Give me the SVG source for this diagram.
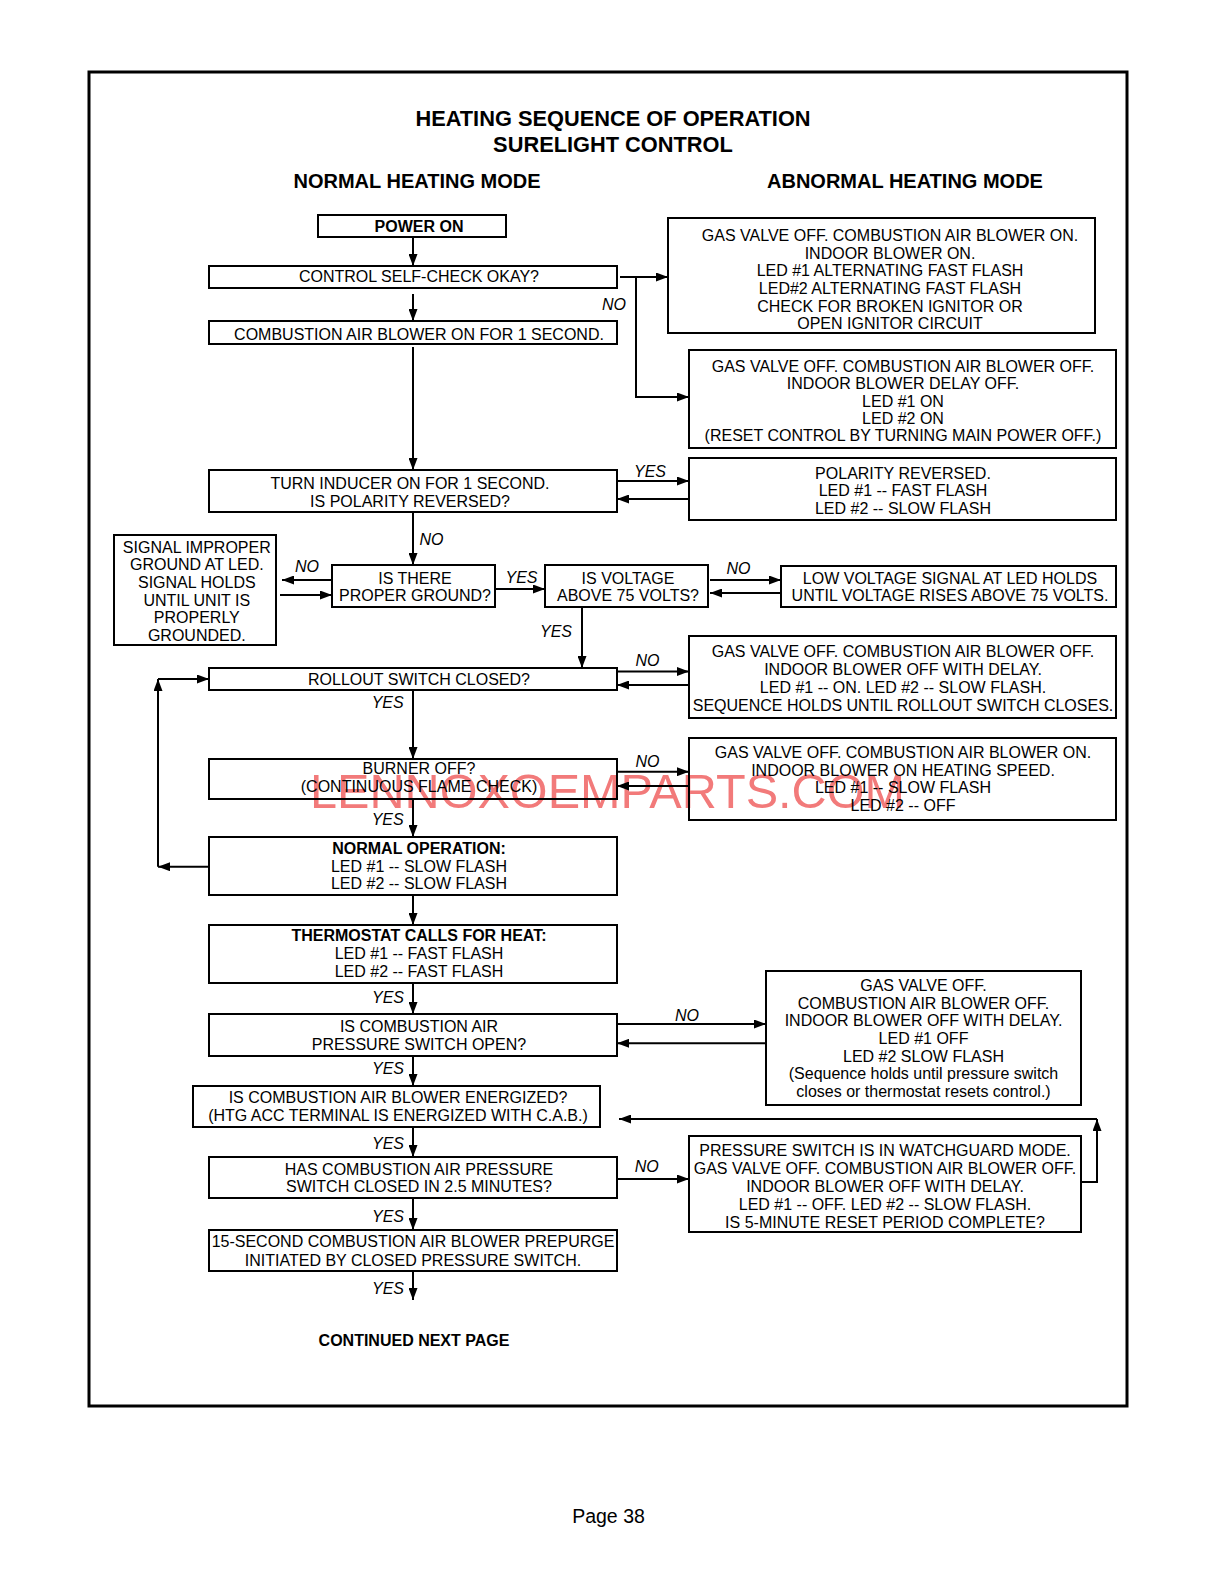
<svg xmlns="http://www.w3.org/2000/svg" width="1219" height="1582" viewBox="0 0 1219 1582">
<style>
text{font-family:"Liberation Sans",Arial,Helvetica,sans-serif;fill:#000}
.t{font-size:16px;text-anchor:middle}
.b{font-size:16px;text-anchor:middle;font-weight:bold}
.l{font-size:16px;text-anchor:middle;font-style:italic}
.h{font-size:20px;text-anchor:middle;font-weight:bold}
.ti{font-size:21.8px;text-anchor:middle;font-weight:bold}
.box{fill:none;stroke:#000;stroke-width:2}
.c line,.c polyline{fill:none;stroke:#000;stroke-width:2}
.wm{font-size:48.6px;text-anchor:middle;fill:#f27a7a}
</style>
<defs>
<marker id="ah" viewBox="0 0 12 9" markerWidth="12" markerHeight="9" refX="12" refY="4.5" orient="auto" markerUnits="userSpaceOnUse">
<path d="M0,0 L12,4.5 L0,9 z" fill="#000"/>
</marker>
</defs>
<rect x="0" y="0" width="1219" height="1582" fill="#fff"/>
<text class="wm" x="607.5" y="808">LENNOXOEMPARTS.COM</text>
<rect x="89" y="72" width="1038" height="1334" fill="none" stroke="#000" stroke-width="3"/>
<text class="ti" x="613" y="126">HEATING SEQUENCE OF OPERATION</text>
<text class="ti" x="613" y="151.5">SURELIGHT CONTROL</text>
<text class="h" x="417" y="188">NORMAL HEATING MODE</text>
<text class="h" x="905" y="188">ABNORMAL HEATING MODE</text>

<g id="power-on"><rect class="box" x="318" y="215" width="188" height="22"/><text class="b" x="419" y="231.7">POWER ON</text></g>
<g id="self-check"><rect class="box" x="209" y="266" width="408" height="22"/><text class="t" x="419" y="282.2">CONTROL SELF-CHECK OKAY?</text></g>
<g id="cab-1sec"><rect class="box" x="209" y="321" width="408" height="23"/><text class="t" x="419" y="339.7">COMBUSTION AIR BLOWER ON FOR 1 SECOND.</text></g>
<g id="ignitor-fault"><rect class="box" x="668" y="218" width="427" height="115"/>
<text class="t" x="890" y="240.8">GAS VALVE OFF. COMBUSTION AIR BLOWER ON.</text>
<text class="t" x="890" y="258.5">INDOOR BLOWER ON.</text>
<text class="t" x="890" y="276.2">LED #1 ALTERNATING FAST FLASH</text>
<text class="t" x="890" y="293.9">LED#2 ALTERNATING FAST FLASH</text>
<text class="t" x="890" y="311.6">CHECK FOR BROKEN IGNITOR OR</text>
<text class="t" x="890" y="329.3">OPEN IGNITOR CIRCUIT</text></g>
<g id="control-fault"><rect class="box" x="689" y="350" width="427" height="98"/>
<text class="t" x="903" y="371.7">GAS VALVE OFF. COMBUSTION AIR BLOWER OFF.</text>
<text class="t" x="903" y="389.1">INDOOR BLOWER DELAY OFF.</text>
<text class="t" x="903" y="406.5">LED #1 ON</text>
<text class="t" x="903" y="423.9">LED #2 ON</text>
<text class="t" x="903" y="441.3">(RESET CONTROL BY TURNING MAIN POWER OFF.)</text></g>
<g id="turn-inducer"><rect class="box" x="209" y="470" width="408" height="42"/>
<text class="t" x="410" y="488.7">TURN INDUCER ON FOR 1 SECOND.</text>
<text class="t" x="410" y="506.7">IS POLARITY REVERSED?</text></g>
<g id="polarity-reversed"><rect class="box" x="689" y="458" width="427" height="62"/>
<text class="t" x="903" y="478.5">POLARITY REVERSED.</text>
<text class="t" x="903" y="496.1">LED #1 -- FAST FLASH</text>
<text class="t" x="903" y="513.8">LED #2 -- SLOW FLASH</text></g>
<g id="improper-ground"><rect class="box" x="114" y="535" width="162" height="110"/>
<text class="t" x="196.8" y="552.7">SIGNAL IMPROPER</text>
<text class="t" x="196.8" y="570.3">GROUND AT LED.</text>
<text class="t" x="196.8" y="587.9">SIGNAL HOLDS</text>
<text class="t" x="196.8" y="605.5">UNTIL UNIT IS</text>
<text class="t" x="196.8" y="623.1">PROPERLY</text>
<text class="t" x="196.8" y="640.7">GROUNDED.</text></g>
<g id="proper-ground"><rect class="box" x="332" y="565" width="163" height="42"/>
<text class="t" x="415" y="583.7">IS THERE</text>
<text class="t" x="415" y="601.2">PROPER GROUND?</text></g>
<g id="voltage"><rect class="box" x="545" y="565" width="163" height="42"/>
<text class="t" x="628" y="583.7">IS VOLTAGE</text>
<text class="t" x="628" y="601.2">ABOVE 75 VOLTS?</text></g>
<g id="low-voltage"><rect class="box" x="781" y="566" width="335" height="41"/>
<text class="t" x="950" y="583.7">LOW VOLTAGE SIGNAL AT LED HOLDS</text>
<text class="t" x="950" y="601.2">UNTIL VOLTAGE RISES ABOVE 75 VOLTS.</text></g>
<g id="rollout"><rect class="box" x="209" y="668" width="408" height="22"/>
<text class="t" x="419" y="684.7">ROLLOUT SWITCH CLOSED?</text></g>
<g id="rollout-open"><rect class="box" x="689" y="636" width="427" height="82"/>
<text class="t" x="903" y="656.7">GAS VALVE OFF. COMBUSTION AIR BLOWER OFF.</text>
<text class="t" x="903" y="674.7">INDOOR BLOWER OFF WITH DELAY.</text>
<text class="t" x="903" y="692.7">LED #1 -- ON. LED #2 -- SLOW FLASH.</text>
<text class="t" x="903" y="710.7">SEQUENCE HOLDS UNTIL ROLLOUT SWITCH CLOSES.</text></g>
<g id="burner-off"><rect class="box" x="209" y="759" width="408" height="40"/>
<text class="t" x="419" y="774.2">BURNER OFF?</text>
<text class="t" x="419" y="792.2">(CONTINUOUS FLAME CHECK)</text></g>
<g id="flame-fault"><rect class="box" x="689" y="738" width="427" height="82"/>
<text class="t" x="903" y="757.7">GAS VALVE OFF. COMBUSTION AIR BLOWER ON.</text>
<text class="t" x="903" y="775.5">INDOOR BLOWER ON HEATING SPEED.</text>
<text class="t" x="903" y="793.3">LED #1 -- SLOW FLASH</text>
<text class="t" x="903" y="811.1">LED #2 -- OFF</text></g>
<g id="normal-operation"><rect class="box" x="209" y="837" width="408" height="58"/>
<text class="b" x="419" y="854">NORMAL OPERATION:</text>
<text class="t" x="419" y="871.7">LED #1 -- SLOW FLASH</text>
<text class="t" x="419" y="889.2">LED #2 -- SLOW FLASH</text></g>
<g id="thermostat"><rect class="box" x="209" y="925" width="408" height="58"/>
<text class="b" x="419" y="941.4">THERMOSTAT CALLS FOR HEAT:</text>
<text class="t" x="419" y="959">LED #1 -- FAST FLASH</text>
<text class="t" x="419" y="976.7">LED #2 -- FAST FLASH</text></g>
<g id="pressure-open"><rect class="box" x="209" y="1014" width="408" height="42"/>
<text class="t" x="419" y="1032.4">IS COMBUSTION AIR</text>
<text class="t" x="419" y="1050">PRESSURE SWITCH OPEN?</text></g>
<g id="pressure-fault"><rect class="box" x="766" y="971" width="315" height="134"/>
<text class="t" x="923.5" y="991.2">GAS VALVE OFF.</text>
<text class="t" x="923.5" y="1008.8">COMBUSTION AIR BLOWER OFF.</text>
<text class="t" x="923.5" y="1026.4">INDOOR BLOWER OFF WITH DELAY.</text>
<text class="t" x="923.5" y="1044">LED #1 OFF</text>
<text class="t" x="923.5" y="1061.6">LED #2 SLOW FLASH</text>
<text class="t" x="923.5" y="1079.2">(Sequence holds until pressure switch</text>
<text class="t" x="923.5" y="1096.8">closes or thermostat resets control.)</text></g>
<g id="cab-energized"><rect class="box" x="193" y="1086" width="407" height="41"/>
<text class="t" x="398" y="1102.7">IS COMBUSTION AIR BLOWER ENERGIZED?</text>
<text class="t" x="398" y="1120.7">(HTG ACC TERMINAL IS ENERGIZED WITH C.A.B.)</text></g>
<g id="pressure-closed"><rect class="box" x="209" y="1157" width="408" height="41"/>
<text class="t" x="419" y="1174.7">HAS COMBUSTION AIR PRESSURE</text>
<text class="t" x="419" y="1192.4">SWITCH CLOSED IN 2.5 MINUTES?</text></g>
<g id="watchguard"><rect class="box" x="689" y="1136" width="392" height="96"/>
<text class="t" x="885" y="1156">PRESSURE SWITCH IS IN WATCHGUARD MODE.</text>
<text class="t" x="885" y="1174">GAS VALVE OFF. COMBUSTION AIR BLOWER OFF.</text>
<text class="t" x="885" y="1192">INDOOR BLOWER OFF WITH DELAY.</text>
<text class="t" x="885" y="1210">LED #1 -- OFF. LED #2 -- SLOW FLASH.</text>
<text class="t" x="885" y="1228">IS 5-MINUTE RESET PERIOD COMPLETE?</text></g>
<g id="prepurge"><rect class="box" x="209" y="1230" width="408" height="41"/>
<text class="t" x="413" y="1247.4">15-SECOND COMBUSTION AIR BLOWER PREPURGE</text>
<text class="t" x="413" y="1265.7">INITIATED BY CLOSED PRESSURE SWITCH.</text></g>

<g id="connectors" class="c">
<line x1="413" y1="237" x2="413" y2="266" marker-end="url(#ah)"/>
<line x1="413" y1="294" x2="413" y2="321" marker-end="url(#ah)"/>
<line x1="620" y1="277" x2="668" y2="277" marker-end="url(#ah)"/>
<polyline points="636,277 636,397 689,397" marker-end="url(#ah)"/>
<line x1="413" y1="347" x2="413" y2="470" marker-end="url(#ah)"/>
<line x1="617" y1="481" x2="689" y2="481" marker-end="url(#ah)"/>
<line x1="689" y1="499" x2="617" y2="499" marker-end="url(#ah)"/>
<line x1="413" y1="512" x2="413" y2="565" marker-end="url(#ah)"/>
<line x1="332" y1="580" x2="282" y2="580" marker-end="url(#ah)"/>
<line x1="280" y1="595" x2="332" y2="595" marker-end="url(#ah)"/>
<line x1="495" y1="589" x2="545" y2="589" marker-end="url(#ah)"/>
<line x1="710" y1="580" x2="781" y2="580" marker-end="url(#ah)"/>
<line x1="781" y1="593" x2="710" y2="593" marker-end="url(#ah)"/>
<line x1="582" y1="607" x2="582" y2="668" marker-end="url(#ah)"/>
<line x1="617" y1="671.5" x2="689" y2="671.5" marker-end="url(#ah)"/>
<line x1="689" y1="685" x2="617" y2="685" marker-end="url(#ah)"/>
<line x1="413" y1="690" x2="413" y2="759" marker-end="url(#ah)"/>
<line x1="617" y1="771.7" x2="689" y2="771.7" marker-end="url(#ah)"/>
<line x1="689" y1="786" x2="617" y2="786" marker-end="url(#ah)"/>
<line x1="413" y1="799" x2="413" y2="837" marker-end="url(#ah)"/>
<line x1="209" y1="866.7" x2="158" y2="866.7" marker-end="url(#ah)"/>
<line x1="158" y1="866.7" x2="158" y2="679" marker-end="url(#ah)"/>
<line x1="158" y1="679" x2="209" y2="679" marker-end="url(#ah)"/>
<line x1="413" y1="895" x2="413" y2="925" marker-end="url(#ah)"/>
<line x1="413" y1="983" x2="413" y2="1014" marker-end="url(#ah)"/>
<line x1="617" y1="1024" x2="766" y2="1024" marker-end="url(#ah)"/>
<line x1="766" y1="1043.3" x2="617" y2="1043.3" marker-end="url(#ah)"/>
<line x1="413" y1="1056" x2="413" y2="1086" marker-end="url(#ah)"/>
<line x1="413" y1="1127" x2="413" y2="1157" marker-end="url(#ah)"/>
<line x1="617" y1="1179" x2="689" y2="1179" marker-end="url(#ah)"/>
<polyline points="1081,1182 1097,1182 1097,1119" marker-end="url(#ah)"/>
<line x1="1097" y1="1119" x2="619" y2="1119" marker-end="url(#ah)"/>
<line x1="413" y1="1198" x2="413" y2="1230" marker-end="url(#ah)"/>
<line x1="413" y1="1271" x2="413" y2="1300" marker-end="url(#ah)"/>
<text class="l" x="614" y="310">NO</text>
<text class="l" x="650" y="476.7">YES</text>
<text class="l" x="431.5" y="544.7">NO</text>
<text class="l" x="307" y="572.2">NO</text>
<text class="l" x="521.5" y="582.7">YES</text>
<text class="l" x="738.5" y="574">NO</text>
<text class="l" x="556" y="637">YES</text>
<text class="l" x="647.5" y="665.7">NO</text>
<text class="l" x="387.7" y="708">YES</text>
<text class="l" x="647.5" y="767.2">NO</text>
<text class="l" x="387.7" y="825">YES</text>
<text class="l" x="388" y="1003">YES</text>
<text class="l" x="687" y="1021.4">NO</text>
<text class="l" x="388" y="1074">YES</text>
<text class="l" x="388" y="1149">YES</text>
<text class="l" x="646.7" y="1171.7">NO</text>
<text class="l" x="388" y="1221.7">YES</text>
<text class="l" x="388" y="1294">YES</text>
</g>

<text class="b" x="414" y="1345.7">CONTINUED NEXT PAGE</text>
<text x="608.5" y="1523" font-size="19.5" text-anchor="middle">Page 38</text>
</svg>
